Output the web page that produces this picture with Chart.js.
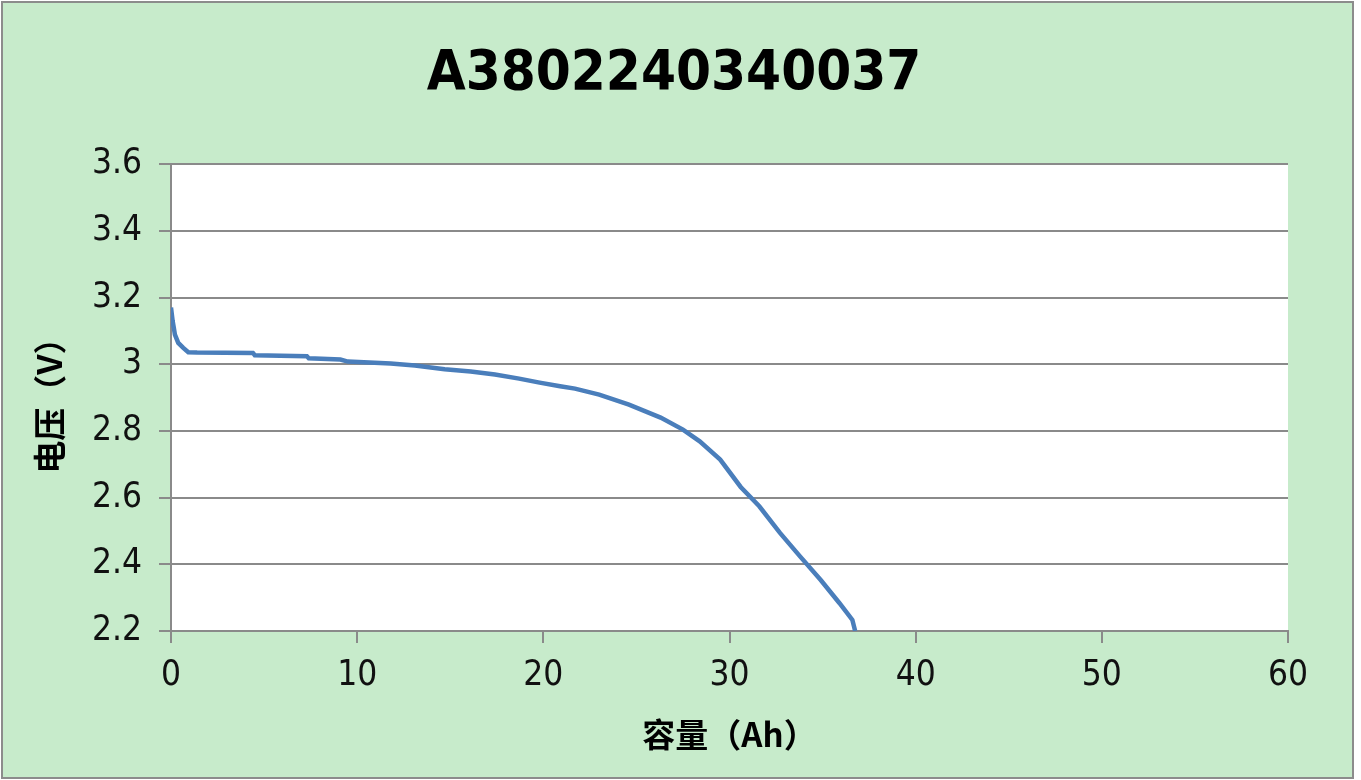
<!DOCTYPE html>
<html lang="zh">
<head>
  <meta charset="UTF-8" />
  <title>A3802240340037</title>
  <script src="https://cdn.jsdelivr.net/npm/chart.js"></script>
  <style>
    body { margin: 0; background: #fff; width: 1361px; height: 780px; overflow: hidden; position: relative; }
    #box { position: absolute; left: 1px; top: 1px; width: 1349px; height: 774px; background: #c7ebcb; border: 2px solid #8c8c8c; }
    #c { position: absolute; left: 0; top: 0; }
  </style>
</head>
<body>
  <div id="box"></div>
  <canvas id="c" width="1361" height="780"></canvas>

  <script>
    // capacity (Ah) and voltage (V)
    const capacity = [0, 0.05, 0.09, 0.15, 0.21, 0.39, 0.66, 0.93, 1.4, 4.4, 4.5, 7.3, 7.4, 9.1, 9.5,
      11.8, 13.1, 14.7, 16.1, 17.4, 18.7, 19.8, 20.9, 21.7, 23.0, 24.6, 26.3, 27.5, 28.4, 29.5,
      30.6, 31.6, 32.7, 33.8, 34.9, 35.9, 36.6, 36.75];
    const voltage = [3.170, 3.170, 3.129, 3.110, 3.089, 3.064, 3.049, 3.036, 3.035, 3.034, 3.027, 3.024, 3.018, 3.014, 3.008,
      3.002, 2.996, 2.985, 2.978, 2.969, 2.957, 2.945, 2.934, 2.927, 2.909, 2.879, 2.840, 2.804, 2.769, 2.714,
      2.632, 2.574, 2.495, 2.423, 2.353, 2.284, 2.233, 2.200];

    const chartTitle = 'A3802240340037';
    const xTitle = '容量（Ah）';
    const yTitle = '电压（V）';

    const gridColor = '#8a8a8a';
    const tickFont = { family: '"Liberation Sans Narrow", "DejaVu Sans Condensed", sans-serif', size: 35 };
    const axisTitleFont = { family: '"Noto Sans CJK SC", sans-serif', size: 33, weight: 'bold' };

    const plotBg = {
      id: 'plotBg',
      beforeDraw(chart) {
        const { ctx, chartArea: a } = chart;
        ctx.save();
        ctx.fillStyle = '#fff';
        ctx.fillRect(a.left, a.top, a.right - a.left, a.bottom - a.top);
        ctx.restore();
      }
    };

    new Chart(document.getElementById('c').getContext('2d'), {
      type: 'line',
      data: {
        datasets: [{
          data: capacity.map((x, i) => ({ x, y: voltage[i] })),
          borderColor: '#4a7ebb',
          borderWidth: 4.5,
          pointRadius: 0,
          tension: 0,
          fill: false
        }]
      },
      options: {
        responsive: false,
        devicePixelRatio: 1,
        animation: false,
        layout: { padding: { left: 0, right: 13, top: 0, bottom: 0 } },
        plugins: {
          legend: { display: false },
          tooltip: { enabled: false },
          title: {
            display: true,
            text: chartTitle,
            color: '#000',
            font: { family: '"DejaVu Sans Condensed", "DejaVu Sans", sans-serif', size: 56, weight: 'bold' },
            padding: { top: 41, bottom: 56 }
          }
        },
        scales: {
          x: {
            type: 'linear',
            min: 0, max: 60,
            afterFit: s => { s.height = 149; },
            ticks: { stepSize: 10, color: '#111', font: tickFont, padding: 12, maxRotation: 0 },
            grid: { drawOnChartArea: false, drawTicks: true, tickLength: 12, tickColor: gridColor, lineWidth: 2 },
            border: { display: true, color: gridColor, width: 2 },
            title: { display: true, text: xTitle, color: '#000', font: axisTitleFont, padding: { top: 0, bottom: 26 } }
          },
          y: {
            type: 'linear',
            min: 2.2, max: 3.6,
            afterFit: s => { s.width = 171; },
            ticks: {
              stepSize: 0.2, color: '#111', font: tickFont, padding: 17,
              callback: v => String(Math.round(v * 10) / 10)
            },
            grid: { color: gridColor, lineWidth: 2, drawTicks: true, tickLength: 12, tickColor: gridColor },
            border: { display: true, color: gridColor, width: 2 },
            title: { display: true, text: yTitle, color: '#000', font: axisTitleFont, padding: { top: 30, bottom: 0 } }
          },
          // empty right-hand space so the title centres on the whole panel
          yRight: {
            type: 'linear',
            position: 'right',
            afterFit: s => { s.width = 60; },
            ticks: { display: false },
            grid: { display: false },
            border: { display: false }
          }
        }
      },
      plugins: [plotBg]
    });
  </script>
</body>
</html>
